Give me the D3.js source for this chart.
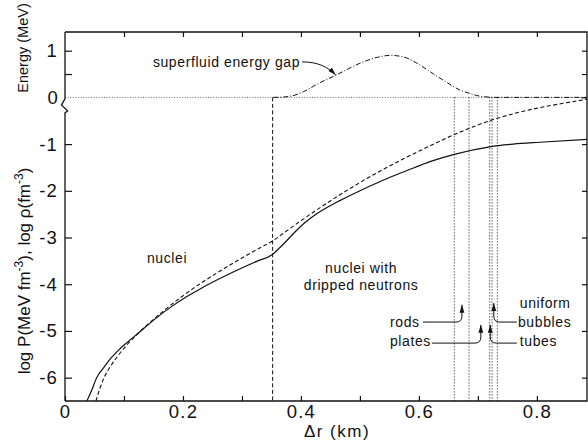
<!DOCTYPE html>
<html>
<head>
<meta charset="utf-8">
<script src="https://cdn.jsdelivr.net/npm/d3@7"></script>
<style>
  html, body { margin: 0; padding: 0; background: #fff; }
  svg { display: block; font-family: "Liberation Sans", Arial, sans-serif; }
</style>
</head>
<body>
<div id="chart"></div>
<script>
// solid curve: log rho (fm^-3) vs depth
const logRho = [
  [0.037, -6.5], [0.046, -6.25], [0.051, -6.08], [0.056, -5.95], [0.066, -5.78],
  [0.076, -5.61], [0.09, -5.42], [0.105, -5.25], [0.124, -5.05], [0.155, -4.72],
  [0.18, -4.485], [0.206, -4.27], [0.229, -4.1], [0.26, -3.895], [0.297, -3.67],
  [0.325, -3.51], [0.351, -3.37], [0.364, -3.22], [0.381, -3.0], [0.398, -2.78],
  [0.415, -2.6], [0.432, -2.45], [0.466, -2.21], [0.5, -2.0], [0.523, -1.865],
  [0.55, -1.715], [0.579, -1.57], [0.62, -1.37], [0.66, -1.22], [0.72, -1.06],
  [0.76, -1.0], [0.805, -0.96], [0.885, -0.9]
];

// dashed curve: log P (MeV fm^-3)
const logP = [
  [0.0525, -6.5], [0.06, -6.2], [0.067, -5.98], [0.076, -5.78], [0.09, -5.53],
  [0.105, -5.3], [0.124, -5.05], [0.155, -4.7], [0.175, -4.49], [0.195, -4.295],
  [0.229, -3.99], [0.26, -3.74], [0.297, -3.46], [0.325, -3.26], [0.351, -3.08],
  [0.38, -2.82], [0.4, -2.64], [0.432, -2.365], [0.466, -2.086], [0.5, -1.824],
  [0.522, -1.663], [0.55, -1.47], [0.58, -1.275], [0.62, -1.031], [0.659, -0.8],
  [0.69, -0.64], [0.72, -0.5], [0.76, -0.35], [0.805, -0.22], [0.85, -0.115],
  [0.885, -0.04]
];

// dash-dot curve: superfluid energy gap (MeV)
const gap = [
  [0.353, 0], [0.373, 0.01], [0.39, 0.05], [0.404, 0.12], [0.43, 0.3],
  [0.46, 0.48], [0.5, 0.73], [0.53, 0.86], [0.551, 0.9], [0.573, 0.87],
  [0.59, 0.78], [0.607, 0.65], [0.625, 0.5], [0.641, 0.37], [0.655, 0.26],
  [0.669, 0.16], [0.685, 0.09], [0.698, 0.04], [0.715, 0.01], [0.726, 0],
  [0.885, 0]
];

const dripLine = 0.352;
const phaseLines = [0.66, 0.685, 0.72, 0.724, 0.733];

const xTicks = [0.1, 0.2, 0.3, 0.4, 0.5, 0.6, 0.7, 0.8];
const xLabelTicks = [0, 0.1, 0.2, 0.3, 0.4, 0.5, 0.6, 0.7, 0.8];
const yTicks = [1, 0.5, 0, -1, -2, -3, -4, -5, -6];

const width = 588;
const height = 442;
const pLeft = 65, pRight = 587, pTop = 32, pBottom = 401;

const x = d3.scaleLinear().domain([0, 0.885]).range([pLeft, pRight]);
const y = d3.scaleLinear().domain([-6.5, 1.4]).range([pBottom, pTop]);

const svg = d3.select("#chart")
  .append("svg")
  .attr("width", width)
  .attr("height", height);

svg.append("defs")
  .append("marker")
  .attr("id", "arrow")
  .attr("markerUnits", "userSpaceOnUse")
  .attr("markerWidth", 9)
  .attr("markerHeight", 6)
  .attr("refX", 8)
  .attr("refY", 3)
  .attr("orient", "auto")
  .append("path")
  .attr("d", "M0,0.6 L8,3 L0,5.4 Z")
  .attr("fill", "#111");

// zero-energy dotted line
svg.append("line")
  .attr("x1", x(0)).attr("x2", x(0.885))
  .attr("y1", y(0)).attr("y2", y(0))
  .attr("stroke", "#555")
  .attr("stroke-width", 0.9)
  .attr("stroke-dasharray", "1,1.6");

// phase boundaries
svg.append("line")
  .attr("x1", x(dripLine)).attr("x2", x(dripLine))
  .attr("y1", y(0)).attr("y2", y(-6.5))
  .attr("stroke", "#111")
  .attr("stroke-width", 1)
  .attr("stroke-dasharray", "4,2.5");

svg.append("g")
  .selectAll("line")
  .data(phaseLines)
  .join("line")
  .attr("x1", (d) => x(d)).attr("x2", (d) => x(d))
  .attr("y1", y(0)).attr("y2", y(-6.5))
  .attr("stroke", "#111")
  .attr("stroke-width", 1)
  .attr("stroke-dasharray", "1,2");

const line = d3.line()
  .x((d) => x(d[0]))
  .y((d) => y(d[1]))
  .curve(d3.curveMonotoneX);

svg.append("path")
  .datum(logRho)
  .attr("d", line)
  .attr("fill", "none")
  .attr("stroke", "#111")
  .attr("stroke-width", 1.2);

svg.append("path")
  .datum(logP)
  .attr("d", line)
  .attr("fill", "none")
  .attr("stroke", "#111")
  .attr("stroke-width", 1.1)
  .attr("stroke-dasharray", "4,2.5");

svg.append("path")
  .datum(gap)
  .attr("d", line)
  .attr("fill", "none")
  .attr("stroke", "#111")
  .attr("stroke-width", 1)
  .attr("stroke-dasharray", "5,2,1,2");

// frame, with the axis break below zero energy
const y0 = y(0);
svg.append("path")
  .attr("d", `M${pLeft},${pTop}H${pRight}V${pBottom}H${pLeft}` +
    `M${pLeft},${pTop}V${y0 + 1.5}L${pLeft - 3.5},${y0 + 7.5}L${pLeft + 2.5},${y0 + 13.5}L${pLeft},${y0 + 15.5}V${pBottom}`)
  .attr("fill", "none")
  .attr("stroke", "#111")
  .attr("stroke-width", 1.3);

const fmtX = (d) => {
  const k = Math.round(d * 10);
  if (k % 2) return "";
  return k === 0 ? "0" : d3.format(".1f")(d);
};
const fmtY = (d) => {
  if (d === 0.5) return "";
  return d < 0 ? "-" + Math.abs(d) : String(d);
};

const styleAxis = (g, size) => {
  g.select(".domain").remove();
  g.selectAll(".tick line").attr("stroke", "#111").attr("stroke-width", 1.2);
  g.selectAll(".tick text")
    .attr("fill", "#111")
    .style("font-family", "'Liberation Sans', Arial, sans-serif")
    .style("font-size", size + "px")
    .style("letter-spacing", "1.2px");
};

svg.append("g")
  .attr("transform", `translate(0,${pBottom})`)
  .call(d3.axisBottom(x).tickValues(xLabelTicks).tickFormat(fmtX)
    .tickSizeInner(-5).tickSizeOuter(0).tickPadding(4))
  .call((g) => styleAxis(g, 18.5));

svg.append("g")
  .attr("transform", `translate(0,${pTop})`)
  .call(d3.axisTop(x).tickValues(xTicks).tickFormat("")
    .tickSizeInner(-5).tickSizeOuter(0))
  .call((g) => styleAxis(g, 18));

svg.append("g")
  .attr("transform", `translate(${pLeft},0)`)
  .call(d3.axisLeft(y).tickValues(yTicks.filter((d) => d !== 0)).tickFormat(fmtY)
    .tickSizeInner(-7).tickSizeOuter(0).tickPadding(7))
  .call((g) => styleAxis(g, 18.5));

svg.append("g")
  .attr("transform", `translate(${pLeft},0)`)
  .call(d3.axisLeft(y).tickValues([0]).tickFormat(fmtY)
    .tickSizeInner(0).tickSizeOuter(0).tickPadding(6))
  .call((g) => styleAxis(g, 18.5));

svg.append("g")
  .attr("transform", `translate(${pRight},0)`)
  .call(d3.axisRight(y).tickValues(yTicks).tickFormat("")
    .tickSizeInner(-5).tickSizeOuter(0))
  .call((g) => styleAxis(g, 18));

// axis titles
svg.append("text")
  .attr("x", (pLeft + pRight) / 2 + 11)
  .attr("y", 437)
  .attr("text-anchor", "middle")
  .style("font-size", "17px")
  .style("letter-spacing", "1.5px")
  .attr("fill", "#111")
  .text("Δr (km)");

svg.append("text")
  .attr("transform", "translate(28,48) rotate(-90)")
  .attr("text-anchor", "middle")
  .style("font-size", "14.5px")
  .attr("fill", "#111")
  .text("Energy (MeV)");

const yTitle = svg.append("text")
  .attr("transform", "translate(30,271) rotate(-90)")
  .attr("text-anchor", "middle")
  .style("font-size", "17px")
  .attr("fill", "#111");
yTitle.append("tspan").text("log P(MeV fm");
yTitle.append("tspan").attr("dy", -7).style("font-size", "12px").text("-3");
yTitle.append("tspan").attr("dy", 7).text("), log ρ(fm");
yTitle.append("tspan").attr("dy", -7).style("font-size", "12px").text("-3");
yTitle.append("tspan").attr("dy", 7).text(")");

// annotations
const labels = [
  { text: "superfluid energy gap", at: [0.149, 0.65], anchor: "start" },
  { text: "nuclei", at: [0.139, -3.55], anchor: "start" },
  { text: "nuclei with", at: [0.502, -3.76], anchor: "middle" },
  { text: "dripped neutrons", at: [0.502, -4.12], anchor: "middle" },
  { text: "uniform", at: [0.771, -4.51], anchor: "start" },
  { text: "rods", at: [0.551, -4.92], anchor: "start" },
  { text: "bubbles", at: [0.768, -4.92], anchor: "start" },
  { text: "plates", at: [0.551, -5.32], anchor: "start" },
  { text: "tubes", at: [0.771, -5.32], anchor: "start" }
];

svg.append("g")
  .selectAll("text")
  .data(labels)
  .join("text")
  .attr("x", (d) => x(d.at[0]))
  .attr("y", (d) => y(d.at[1]))
  .attr("text-anchor", (d) => d.anchor)
  .style("font-size", "14px")
  .style("letter-spacing", "0.6px")
  .attr("fill", "#111")
  .text((d) => d.text);

// leaders: horizontal run, rounded corner, then up to the arrow tip
const leaders = [
  { from: [0.607, -4.81], to: [0.673, -4.44] },
  { from: [0.622, -5.26], to: [0.705, -4.87] },
  { from: [0.766, -4.81], to: [0.727, -4.4] },
  { from: [0.766, -5.26], to: [0.721, -4.87] }
];

const r = 6;
svg.append("g")
  .selectAll("path")
  .data(leaders)
  .join("path")
  .attr("d", (d) => {
    const sx = x(d.from[0]), sy = y(d.from[1]);
    const tx = x(d.to[0]), ty = y(d.to[1]);
    const dir = tx > sx ? 1 : -1;
    return `M${sx},${sy}H${tx - dir * r}Q${tx},${sy} ${tx},${sy - r}V${ty}`;
  })
  .attr("fill", "none")
  .attr("stroke", "#111")
  .attr("stroke-width", 1)
  .attr("marker-end", "url(#arrow)");

const gs = [x(0.402), y(0.76)];
const ge = [x(0.459), y(0.48)];
svg.append("path")
  .attr("d", `M${gs[0]},${gs[1]}C${gs[0] + 16},${gs[1]} ${ge[0] - 8},${ge[1] - 8} ${ge[0]},${ge[1]}`)
  .attr("fill", "none")
  .attr("stroke", "#111")
  .attr("stroke-width", 1)
  .attr("marker-end", "url(#arrow)");
</script>
</body>
</html>
